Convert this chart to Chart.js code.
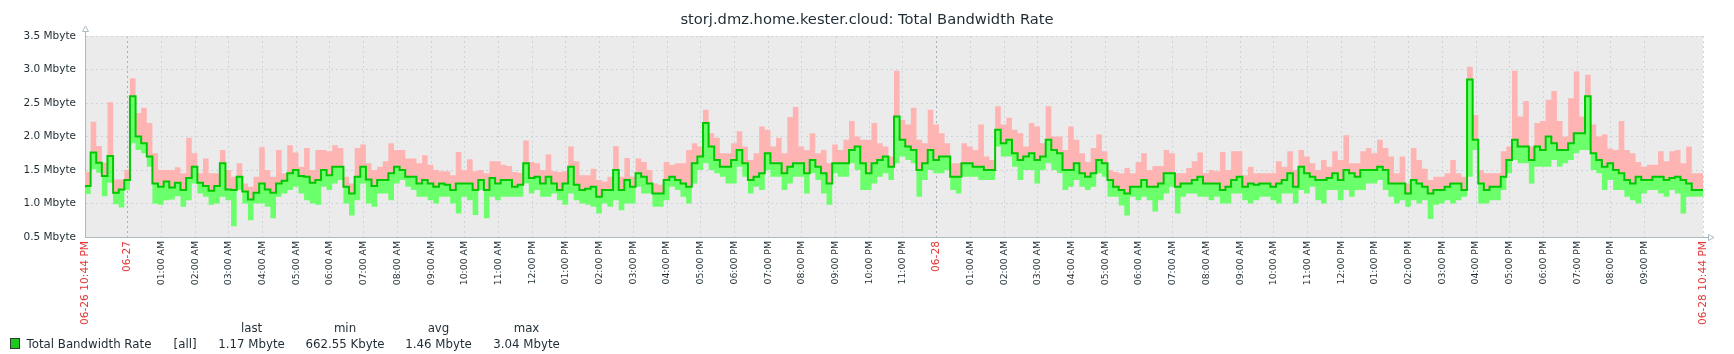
<!DOCTYPE html>
<html><head><meta charset="utf-8">
<script src="https://cdn.jsdelivr.net/npm/chart.js@4"></script>
<style>
html,body{margin:0;padding:0;background:#fff;}
#wrap{position:relative;width:1734px;height:354px;overflow:hidden;}
canvas{position:absolute;left:0;top:0;}
.lg{position:absolute;font-family:"DejaVu Sans";font-size:11.8px;color:#1f2c33;white-space:nowrap;line-height:14px;}
.sq{position:absolute;box-sizing:border-box;border:1px solid #2e3a30;background:#1ec81e;}
</style></head><body>
<div id="wrap"><canvas id="c" width="1734" height="354"></canvas><div id="legend"></div></div>
<script>
// Values in Mbyte, one per 10-minute interval starting 06-26 10:44 PM
const avgMB = [
1.24,1.26,1.76,1.61,1.41,1.71,1.16,1.21,1.35,2.6,2.0,1.9,1.7,1.3,1.25,1.33,1.24,1.31,1.2,1.38,1.55,1.31,1.26,1.19,1.26,1.6,1.21,1.2,1.4,1.18,1.06,1.16,1.3,1.21,1.16,1.3,1.34,1.45,1.5,1.41,1.4,1.31,1.35,1.5,1.42,1.55,1.55,1.25,1.15,1.4,1.55,1.36,1.26,1.35,1.35,1.45,1.55,1.5,
1.4,1.4,1.3,1.35,1.3,1.25,1.3,1.28,1.2,1.3,1.3,1.3,1.2,1.35,1.2,1.38,1.3,1.35,1.35,1.25,1.28,1.6,1.38,1.4,1.3,1.4,1.3,1.2,1.3,1.55,1.28,1.2,1.22,1.25,1.1,1.2,1.2,1.5,1.2,1.35,1.25,1.45,1.4,1.3,1.15,1.15,1.35,1.4,1.35,1.3,1.25,1.6,1.7,2.2,1.85,1.65,1.55,1.55,
1.65,1.8,1.6,1.35,1.4,1.45,1.75,1.6,1.6,1.45,1.55,1.6,1.6,1.45,1.65,1.55,1.45,1.3,1.6,1.6,1.6,1.8,1.85,1.6,1.45,1.6,1.65,1.7,1.55,2.3,1.95,1.85,1.8,1.5,1.6,1.8,1.65,1.7,1.7,1.4,1.4,1.6,1.6,1.55,1.55,1.5,1.5,2.1,1.9,1.95,1.75,1.65,1.7,1.75,1.65,1.7,1.95,
1.8,1.75,1.5,1.5,1.6,1.45,1.4,1.45,1.65,1.6,1.35,1.25,1.2,1.15,1.25,1.25,1.35,1.25,1.25,1.3,1.45,1.45,1.25,1.3,1.3,1.35,1.4,1.3,1.3,1.3,1.2,1.25,1.35,1.4,1.25,1.3,1.28,1.3,1.3,1.25,1.3,1.35,1.45,1.25,1.55,1.45,1.4,1.35,1.35,1.38,1.45,1.35,1.5,1.45,1.4,1.5,1.5,1.5,
1.55,1.5,1.3,1.3,1.3,1.15,1.35,1.3,1.25,1.15,1.2,1.2,1.25,1.3,1.3,1.2,2.85,1.95,1.3,1.2,1.25,1.25,1.4,1.65,1.95,1.85,1.85,1.65,1.85,1.8,2.0,1.9,1.8,1.8,1.9,2.05,2.05,2.6,1.75,1.65,1.55,1.6,1.5,1.45,1.35,1.3,1.4,1.35,1.35,1.4,1.4,1.35,1.38,1.4,1.35,1.3,1.2
];
const maxMB = [
1.36,1.47,2.22,1.86,1.61,2.51,1.36,1.36,1.5,2.87,2.35,2.43,2.2,1.75,1.5,1.5,1.5,1.54,1.45,1.98,1.75,1.45,1.67,1.45,1.45,1.8,1.5,1.4,1.6,1.3,1.25,1.4,1.84,1.5,1.4,1.8,1.45,1.87,1.76,1.55,1.83,1.5,1.8,1.8,1.78,1.87,1.83,1.4,1.3,1.83,1.88,1.6,1.5,1.55,1.63,1.9,1.8,1.8,
1.67,1.67,1.6,1.72,1.58,1.5,1.48,1.48,1.42,1.77,1.5,1.66,1.48,1.5,1.45,1.63,1.63,1.58,1.56,1.47,1.46,1.94,1.62,1.6,1.5,1.73,1.48,1.47,1.48,1.85,1.63,1.42,1.42,1.52,1.35,1.33,1.4,1.86,1.4,1.68,1.4,1.67,1.62,1.5,1.3,1.28,1.62,1.58,1.6,1.6,1.8,1.9,1.85,2.4,2.05,1.98,1.75,1.75,
1.9,2.08,1.85,1.65,1.75,2.15,2.1,1.85,1.98,1.75,2.29,2.44,1.85,1.8,2.05,1.75,1.8,1.6,1.88,1.8,1.95,2.23,2.0,1.95,1.95,2.2,1.9,1.85,1.7,2.98,2.25,2.18,2.43,1.95,1.9,2.4,2.18,2.05,1.9,1.6,1.6,1.9,1.85,1.8,2.18,1.7,1.65,2.45,2.18,2.28,2.1,2.05,1.85,2.2,2.15,1.9,2.45,
2.0,2.0,1.8,2.15,1.95,1.75,1.62,1.83,2.03,1.78,1.5,1.47,1.45,1.53,1.45,1.62,1.75,1.5,1.56,1.56,1.8,1.75,1.45,1.45,1.53,1.63,1.76,1.45,1.5,1.48,1.77,1.5,1.78,1.78,1.42,1.55,1.45,1.45,1.45,1.45,1.63,1.55,1.78,1.5,1.8,1.7,1.6,1.5,1.65,1.55,1.78,1.65,2.02,1.6,1.6,1.78,1.83,1.75,
1.95,1.83,1.7,1.45,1.7,1.3,1.83,1.65,1.52,1.35,1.4,1.4,1.45,1.65,1.45,1.4,3.04,2.32,1.5,1.45,1.45,1.45,1.78,1.85,2.98,2.3,2.53,1.85,2.2,2.23,2.55,2.68,2.23,2.0,2.57,2.97,2.3,2.92,2.18,2.0,2.03,1.82,1.8,2.23,1.8,1.75,1.62,1.55,1.58,1.58,1.78,1.63,1.78,1.8,1.6,1.85,1.45
];
const minMB = [
1.16,1.14,1.51,1.46,1.11,1.31,0.99,0.94,1.2,1.9,1.8,1.75,1.55,1.0,0.98,1.05,1.06,1.11,0.95,1.05,1.3,1.15,1.1,0.98,1.0,1.1,1.05,0.66,1.2,1.0,0.75,1.0,1.0,0.95,0.78,1.1,1.15,1.2,1.25,1.15,1.05,1.0,0.98,1.25,1.2,1.3,1.35,1.0,0.82,1.05,1.3,1.0,0.95,1.15,1.15,1.05,1.3,1.35,
1.25,1.2,1.1,1.1,1.05,1.0,1.1,1.1,1.0,0.85,1.1,1.05,0.83,1.2,0.78,1.1,1.05,1.1,1.1,1.1,1.1,1.3,1.15,1.2,1.1,1.1,1.15,1.05,0.98,1.15,1.05,1.0,0.98,0.95,0.85,1.0,0.95,1.05,0.9,1.0,1.0,1.25,1.15,1.15,0.95,0.95,1.05,1.25,1.2,1.1,1.0,1.3,1.5,1.6,1.5,1.45,1.4,1.3,
1.3,1.55,1.4,1.15,1.25,1.2,1.5,1.4,1.4,1.2,1.3,1.4,1.4,1.15,1.45,1.35,1.15,0.98,1.45,1.4,1.4,1.6,1.5,1.2,1.2,1.3,1.4,1.45,1.35,1.6,1.7,1.65,1.6,1.1,1.35,1.5,1.45,1.45,1.5,1.2,1.15,1.4,1.4,1.4,1.35,1.35,1.35,1.85,1.7,1.7,1.55,1.35,1.5,1.5,1.3,1.5,1.6,
1.5,1.45,1.2,1.25,1.35,1.25,1.2,1.25,1.45,1.4,1.1,1.1,0.97,0.82,1.1,1.05,1.1,1.05,0.88,1.05,1.15,1.25,0.85,1.1,1.15,1.15,1.1,1.1,1.05,1.1,1.0,1.0,1.15,1.15,1.05,1.0,1.05,1.1,1.1,1.05,1.0,1.15,1.15,1.0,1.2,1.15,1.25,1.05,1.0,1.2,1.2,1.05,1.2,1.1,1.2,1.2,1.3,1.3,
1.35,1.2,1.1,1.0,1.05,0.95,1.05,1.0,1.05,0.77,0.98,1.0,1.05,1.0,1.05,1.1,1.4,1.8,1.0,1.0,1.05,1.05,1.2,1.45,1.65,1.6,1.6,1.3,1.55,1.55,1.55,1.65,1.55,1.6,1.65,1.75,1.8,1.8,1.5,1.45,1.2,1.35,1.2,1.2,1.1,1.05,1.0,1.15,1.2,1.2,1.15,1.1,1.2,1.15,0.85,1.1,1.1
];
const binMinutes = 10;
const spanMinutes = 2880;
const firstHourOffset = 76; // 06-26 10:44 PM -> 06-27 00:00
const xTickLabels = ['06-26 10:44 PM','06-27',
'01:00 AM','02:00 AM','03:00 AM','04:00 AM','05:00 AM','06:00 AM','07:00 AM','08:00 AM','09:00 AM','10:00 AM','11:00 AM','12:00 PM',
'01:00 PM','02:00 PM','03:00 PM','04:00 PM','05:00 PM','06:00 PM','07:00 PM','08:00 PM','09:00 PM','10:00 PM','11:00 PM',
'06-28',
'01:00 AM','02:00 AM','03:00 AM','04:00 AM','05:00 AM','06:00 AM','07:00 AM','08:00 AM','09:00 AM','10:00 AM','11:00 AM','12:00 PM',
'01:00 PM','02:00 PM','03:00 PM','04:00 PM','05:00 PM','06:00 PM','07:00 PM','08:00 PM','09:00 PM',
'06-28 10:44 PM'];
const yTicks = [0.5,1.0,1.5,2.0,2.5,3.0,3.5];
const titleText = 'storj.dmz.home.kester.cloud: Total Bandwidth Rate';
const seriesName = 'Total Bandwidth Rate';
const legendFunc = '[all]';
const legendHeaders = ['last','min','avg','max'];
const legendValues = ['1.17 Mbyte','662.55 Kbyte','1.46 Mbyte','3.04 Mbyte'];

const xTickMinutes = xTickLabels.map((_, i) => i === 0 ? 0 : (i === xTickLabels.length - 1 ? spanMinutes : firstHourOffset + 60 * (i - 1)));
const isDateLabel = i => xTickLabels[i] && xTickLabels[i].startsWith('06-');
const isMidnight = i => i > 0 && i < xTickLabels.length - 1 && isDateLabel(i);
const pts = arr => arr.map((v, i) => ({x: i * binMinutes, y: v})).concat([{x: arr.length * binMinutes, y: arr[arr.length - 1]}]);

const FONT = 'DejaVu Sans';
const TXT = '#1f2c33';

const bgPlugin = {
  id: 'bg',
  beforeDraw(chart) {
    const {ctx, chartArea: a} = chart;
    ctx.save();
    ctx.fillStyle = '#ebebeb';
    ctx.fillRect(a.left, a.top, a.right - a.left, a.bottom - a.top);
    ctx.restore();
  },
  afterDraw(chart) {
    const {ctx, chartArea: a} = chart;
    ctx.save();
    ctx.strokeStyle = '#acbbc2';
    ctx.fillStyle = '#ffffff';
    ctx.lineWidth = 1;
    const xl = Math.round(a.left) + 0.5, yb = Math.round(a.bottom) + 0.5;
    ctx.beginPath(); ctx.moveTo(xl, a.top); ctx.lineTo(xl, a.top - 5); ctx.stroke();
    ctx.beginPath(); ctx.moveTo(xl, a.top - 10); ctx.lineTo(xl - 3, a.top - 4.5); ctx.lineTo(xl + 3, a.top - 4.5); ctx.closePath(); ctx.fill(); ctx.stroke();
    ctx.beginPath(); ctx.moveTo(a.right, yb); ctx.lineTo(a.right + 5, yb); ctx.stroke();
    ctx.beginPath(); ctx.moveTo(a.right + 11, yb); ctx.lineTo(a.right + 5.5, yb - 3); ctx.lineTo(a.right + 5.5, yb + 3); ctx.closePath(); ctx.fill(); ctx.stroke();
    ctx.restore();
  }
};

new Chart(document.getElementById('c'), {
  type: 'line',
  data: {
    datasets: [
      {label: 'avg', data: pts(avgMB), borderColor: '#00c800', borderWidth: 2, pointRadius: 0, stepped: 'after', fill: false, order: 0},
      {label: 'max', data: pts(maxMB), borderColor: 'rgba(0,0,0,0)', borderWidth: 0, pointRadius: 0, stepped: 'after', fill: 0, backgroundColor: '#ffb4b4', order: 1},
      {label: 'min', data: pts(minMB), borderColor: 'rgba(0,0,0,0)', borderWidth: 0, pointRadius: 0, stepped: 'after', fill: 0, backgroundColor: '#6cff6c', order: 2}
    ]
  },
  options: {
    responsive: false, animation: false, devicePixelRatio: 1,
    layout: {padding: 0},
    plugins: {
      legend: {display: false}, tooltip: {enabled: false},
      title: {display: true, text: titleText, color: TXT, font: {family: FONT, size: 14.7, weight: 'normal', lineHeight: 1.2}, padding: {top: 11, bottom: 7.36}}
    },
    scales: {
      x: {
        type: 'linear', min: 0, max: spanMinutes,
        afterBuildTicks: s => { s.ticks = xTickMinutes.map(v => ({value: v})); },
        afterFit: s => { s.height = 117; },
        ticks: {
          autoSkip: false, minRotation: 90, maxRotation: 90, padding: 4,
          callback: (v, i) => xTickLabels[i],
          color: c => isDateLabel(c.index) ? '#e23a3a' : TXT,
          font: c => ({family: FONT, size: isDateLabel(c.index) ? 10.67 : 9.33})
        },
        grid: {color: c => isMidnight(c.index) ? '#a3b1b8' : '#cdd5da', lineWidth: 1, drawTicks: false},
        border: {color: '#acbbc2', width: 1, dash: [2, 3]}
      },
      y: {
        position: 'left',
        min: 0.5, max: 3.5,
        afterBuildTicks: s => { s.ticks = yTicks.map(v => ({value: v})); },
        afterFit: s => { s.width = 85; },
        ticks: {callback: v => v.toFixed(1) + ' Mbyte', color: TXT, font: {family: FONT, size: 10.5}, padding: 9},
        grid: {color: '#cdd5da', lineWidth: 1, drawTicks: false},
        border: {color: '#acbbc2', width: 1, dash: [2, 3]}
      },
      yr: {
        position: 'right', display: true, min: 0.5, max: 3.5,
        afterFit: s => { s.width = 31; },
        ticks: {display: false},
        grid: {display: false, drawTicks: false},
        border: {display: false}
      }
    }
  },
  plugins: [bgPlugin]
});

// legend (Zabbix style)
const lg = document.getElementById('legend');
function addText(t, left, centerY, width) {
  const d = document.createElement('div');
  d.className = 'lg'; d.textContent = t;
  d.style.top = (centerY - 7) + 'px';
  if (width) { d.style.left = (left - width / 2) + 'px'; d.style.width = width + 'px'; d.style.textAlign = 'center'; }
  else d.style.left = left + 'px';
  lg.appendChild(d);
}
const sq = document.createElement('div'); sq.className = 'sq';
Object.assign(sq.style, {left: '10px', top: '338px', width: '10px', height: '11px'});
lg.appendChild(sq);
addText(seriesName, 26.5, 344);
addText(legendFunc, 173.6, 344);
const colCenters = [251.6, 345, 438.5, 526.5];
legendHeaders.forEach((h, i) => addText(h, colCenters[i], 328, 110));
legendValues.forEach((v, i) => addText(v, colCenters[i], 344, 110));
</script>
</body></html>
